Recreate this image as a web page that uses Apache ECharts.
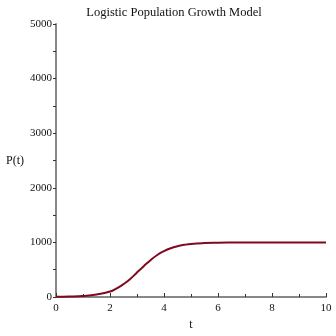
<!DOCTYPE html>
<html>
<head>
<meta charset="utf-8">
<script src="https://cdn.jsdelivr.net/npm/echarts@6/dist/echarts.min.js"></script>
<style>html,body{margin:0;padding:0;background:#fff}#c{width:336px;height:336px}</style>
</head>
<body>
<div id="c"></div>
<script>
var titleText = 'Logistic Population Growth Model';
var xName = 't';
var yName = 'P(t)';
var tValues = [0, 0.5, 1, 1.5, 2, 2.25, 2.5, 2.75, 3, 3.25, 3.5, 3.75, 4, 4.25, 4.5, 4.75, 5, 5.5, 6, 6.5, 7, 8, 9, 10];
var popValues = [3, 7, 18, 45, 100, 160, 235, 330, 450, 565, 675, 770, 840, 893, 930, 955, 972, 988, 995, 998, 999, 1000, 1000, 1000];

var seriesData = tValues.map(function (t, i) { return [t, popValues[i]]; });
var font = '"Liberation Serif", "DejaVu Serif", serif';
var chart = echarts.init(document.getElementById('c'), null, {renderer: 'canvas'});
chart.setOption({
  animation: false,
  backgroundColor: '#fff',
  title: {
    text: titleText, left: 169, top: 1, textAlign: 'center',
    textStyle: {fontFamily: font, fontWeight: 'normal', fontSize: 12.5, color: '#111'}
  },
  grid: {left: 56, right: 10, top: 24, bottom: 34, containLabel: false},
  xAxis: {
    type: 'value', min: 0, max: 10, interval: 2,
    name: xName, nameLocation: 'middle', nameGap: 22,
    nameTextStyle: {fontFamily: font, fontSize: 12, color: '#111'},
    axisLine: {show: true, lineStyle: {color: '#888', width: 2}},
    axisTick: {show: true, inside: true, length: 4, lineStyle: {color: '#333'}},
    minorTick: {show: true, splitNumber: 2, length: 3, lineStyle: {color: '#333'}},
    axisLabel: {fontFamily: font, fontSize: 11, color: '#111', margin: 6},
    splitLine: {show: false}
  },
  yAxis: {
    type: 'value', min: 0, max: 5000, interval: 1000,
    name: yName, nameLocation: 'middle', nameRotate: 0, nameGap: 32,
    nameTextStyle: {fontFamily: font, fontSize: 12, color: '#111'},
    axisLine: {show: true, lineStyle: {color: '#888', width: 2}},
    axisTick: {show: true, length: 3, lineStyle: {color: '#333'}},
    minorTick: {show: true, splitNumber: 2, length: 3, lineStyle: {color: '#333'}},
    axisLabel: {fontFamily: font, fontSize: 11, color: '#111', margin: 4,
      formatter: function (v) { return String(v); }},
    splitLine: {show: false}
  },
  series: [{
    type: 'line', data: seriesData, smooth: true, showSymbol: false,
    lineStyle: {color: '#7d0a1e', width: 2}
  }]
});
</script>
</body>
</html>
